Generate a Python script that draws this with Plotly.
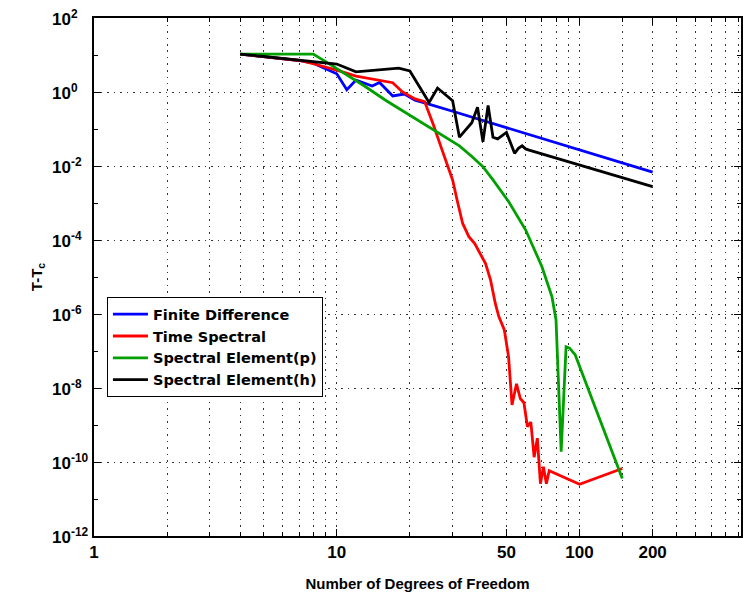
import plotly.graph_objects as go

# ---- data ----
fd_n = [4, 5, 6, 7, 8, 9, 10, 11, 12, 14, 15, 17, 19, 21, 23, 30, 40, 50, 60, 80, 100, 150, 200]
fd_err = [10.6, 9.1, 8.0, 7.1, 6.0, 4.3, 3.1, 1.15, 2.1, 1.45, 1.8, 0.78, 0.88, 0.6, 0.51,
          0.302, 0.17, 0.109, 0.0756, 0.0425, 0.0272, 0.0121, 0.0068]

ts_n = [4, 5, 6, 7, 8, 9, 10, 12, 15, 17, 18.6, 21, 23, 25, 27, 30, 31.3, 33, 35, 37, 41, 43,
        45, 46.5, 49, 51, 52.7, 55, 57, 59, 61, 63, 65, 67, 69, 71, 73, 75, 100, 150]
ts_err = [10.6, 9.1, 8.0, 7.1, 5.8, 4.8, 3.9, 2.7, 2.1, 1.78, 1.02, 0.65, 0.55, 0.13, 0.03,
          0.0042, 0.0012, 2.8e-4, 1.23e-4, 8e-5, 2.3e-5, 8.3e-6, 1.9e-6, 8.5e-7, 3.7e-7,
          7e-8, 3.5e-9, 1.3e-8, 5.2e-9, 4e-9, 9e-10, 1.2e-9, 1.35e-10, 4.4e-10, 2.6e-11,
          7.4e-11, 2.6e-11, 5.8e-11, 2.5e-11, 6.7e-11]

sep_n = [4, 8, 9, 11, 13, 16, 19, 22, 25, 28, 32, 36, 40, 44, 51, 60, 70, 77, 80, 84, 88, 91,
         96, 150]
sep_err = [10.6, 10.6, 6.6, 2.9, 1.45, 0.58, 0.29, 0.165, 0.1, 0.062, 0.035, 0.018, 0.0096,
           0.0042, 0.0011, 1.86e-4, 1.9e-5, 2.9e-6, 6.9e-7, 1.9e-10, 1.3e-7, 1.2e-7, 7.8e-8,
           3.6e-11]

seh_n = [4, 10, 12, 18, 20, 24, 26, 30, 32, 36, 38, 40, 42, 44, 46, 50, 54, 56, 58, 60, 62, 200]
seh_err = [10.6, 5.7, 3.5, 4.4, 3.7, 0.52, 1.28, 0.58, 0.06, 0.148, 0.385, 0.045, 0.43, 0.06,
           0.054, 0.081, 0.022, 0.03, 0.035, 0.029, 0.027, 0.00276]

series_names = ["Finite Difference", "Time Spectral", "Spectral Element(p)", "Spectral Element(h)"]
series_colors = ["#0000ff", "#ff0000", "#00a000", "#000000"]

x_tick_vals = [1, 10, 50, 100, 200]
x_tick_text = ["1", "10", "50", "100", "200"]
x_minor_vals = [2, 3, 4, 5, 6, 7, 8, 9, 20, 30, 40, 60, 70, 80, 90, 150, 250, 300, 350, 400, 450]
y_exps = [2, 0, -2, -4, -6, -8, -10, -12]
y_minor_exps = [1, -1, -3, -5, -7, -9, -11]

FONT = "Liberation Sans, Arial, sans-serif"
LFONT = "DejaVu Sans, Liberation Sans, sans-serif"

fig = go.Figure()
for n, e, name, col in zip([fd_n, ts_n, sep_n, seh_n], [fd_err, ts_err, sep_err, seh_err],
                           series_names, series_colors):
    fig.add_trace(go.Scatter(x=n, y=e, mode="lines", name=name,
                             line=dict(color=col, width=2.8)))

grid = dict(showgrid=True, gridcolor="#333333", griddash="1.5px,5px", gridwidth=1)

# y tick labels: left-aligned as in the reference (MATLAB style)
for k in y_exps:
    fig.add_annotation(x=-0.068, xref="paper", xanchor="left", y=k, yref="y",
                       yanchor="middle", showarrow=False,
                       text="10<sup>%d</sup>" % k,
                       font=dict(family=FONT, size=17, weight="bold", color="black"))

fig.update_layout(
    width=743, height=600,
    margin=dict(l=94, r=0, t=18, b=64),
    paper_bgcolor="white", plot_bgcolor="white",
    font=dict(family=FONT, color="black"),
    showlegend=True,
    legend=dict(x=0.02, y=0.461, xanchor="left", yanchor="top",
                bgcolor="white", bordercolor="black", borderwidth=1,
                font=dict(family=LFONT, size=14.5, weight="bold"),
                tracegroupgap=0, itemwidth=35),
    xaxis=dict(type="log", range=[0, 2.665],
               tickmode="array", tickvals=x_tick_vals, ticktext=x_tick_text,
               ticks="inside", ticklen=7, tickwidth=1, tickcolor="black",
               showline=True, linecolor="black", linewidth=2, mirror="ticks",
               tickfont=dict(family=FONT, size=17, weight="bold"),
               minor=dict(tickmode="array", tickvals=x_minor_vals, ticks="inside",
                          ticklen=4, tickcolor="black", **grid),
               title=dict(text="Number of Degrees of Freedom",
                          font=dict(family=FONT, size=15, weight="bold"), standoff=17),
               zeroline=False, **grid),
    yaxis=dict(type="log", range=[-12, 2],
               tickmode="array", tickvals=[10.0 ** k for k in y_exps],
               showticklabels=False,
               ticks="inside", ticklen=7, tickwidth=1, tickcolor="black",
               showline=True, linecolor="black", linewidth=2, mirror="ticks",
               minor=dict(tickmode="array", tickvals=[10.0 ** k for k in y_minor_exps],
                          ticks="inside", ticklen=4, tickcolor="black", showgrid=False),
               title=dict(text="T-T<sub>c</sub>",
                          font=dict(family=FONT, size=15, weight="bold"), standoff=46),
               zeroline=False, **grid),
)

fig.write_html("out.html")
